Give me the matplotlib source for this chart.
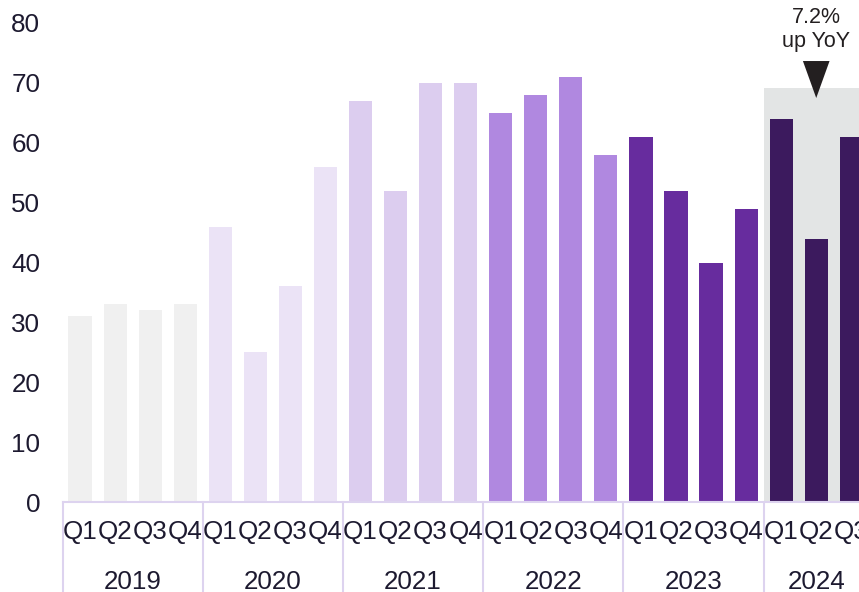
import matplotlib.pyplot as plt
from matplotlib.patches import Rectangle, Polygon
from matplotlib.transforms import blended_transform_factory

plt.rcParams['font.family'] = ['Liberation Sans', 'DejaVu Sans']

# Quarterly values by year
years = ['2019', '2020', '2021', '2022', '2023', '2024']
quarters = ['Q1', 'Q2', 'Q3', 'Q4']
vals_2019 = [31, 33, 32, 33]
vals_2020 = [46, 25, 36, 56]
vals_2021 = [67, 52, 70, 70]
vals_2022 = [65, 68, 71, 58]
vals_2023 = [61, 52, 40, 49]
vals_2024 = [64, 44, 61]
year_colors = ['#f0f0f0', '#ebe3f6', '#dccdef', '#b088e0', '#672c9e', '#3c1a5e']

shade_top = 69.2
yoy_text = '7.2%\nup YoY'

text_color = '#1d1a30'
line_color = '#ddd3ef'

fig = plt.figure(figsize=(8.59, 5.92), dpi=100)
ax = fig.add_axes([62.5 / 859, 90 / 592, 1 - 62.5 / 859, 502 / 592])

all_vals = [vals_2019, vals_2020, vals_2021, vals_2022, vals_2023, vals_2024]
xpos, heights, colors, labels = [], [], [], []
for i, vals in enumerate(all_vals):
    for j, v in enumerate(vals):
        xpos.append(i * 4 + j)
        heights.append(v)
        colors.append(year_colors[i])
        labels.append(quarters[j])

# highlight box behind the latest year
ax.add_patch(Rectangle((19.5, 0), 4, shade_top, color='#e3e5e5', zorder=0, lw=0))

ax.bar(xpos, heights, width=0.66, color=colors, zorder=2)

ax.set_xlim(-0.5, 22.22)
ax.set_ylim(0, 502 / 5.9875)
ax.set_yticks(range(0, 81, 10))
ax.set_xticks(xpos)
ax.set_xticklabels(labels)
ax.tick_params(axis='both', length=0, labelsize=18.7, labelcolor=text_color)
ax.tick_params(axis='y', pad=16)
ax.tick_params(axis='x', pad=13)

for s in ['top', 'right', 'left']:
    ax.spines[s].set_visible(False)
ax.spines['bottom'].set_color(line_color)
ax.spines['bottom'].set_linewidth(1.5)

trans = blended_transform_factory(ax.transData, ax.transAxes)
for i, yr in enumerate(years):
    ax.plot([i * 4 - 0.5] * 2, [0, -0.2], color=line_color, lw=1.5,
            transform=trans, clip_on=False)
    ax.text(i * 4 + 1.5 if i < 5 else 21, -0.173, yr, transform=trans,
            ha='center', va='baseline', fontsize=18.7, color=text_color)

# YoY callout
ax.add_patch(Polygon([(20.62, 73.65), (21.38, 73.65), (21, 67.47)],
                     closed=True, color='#231f20', zorder=3, lw=0))
ax.text(21, 78.9, yoy_text, ha='center', va='center', fontsize=15.5,
        color='#231f20', linespacing=1.2)

fig.savefig('out.png', dpi=100)
